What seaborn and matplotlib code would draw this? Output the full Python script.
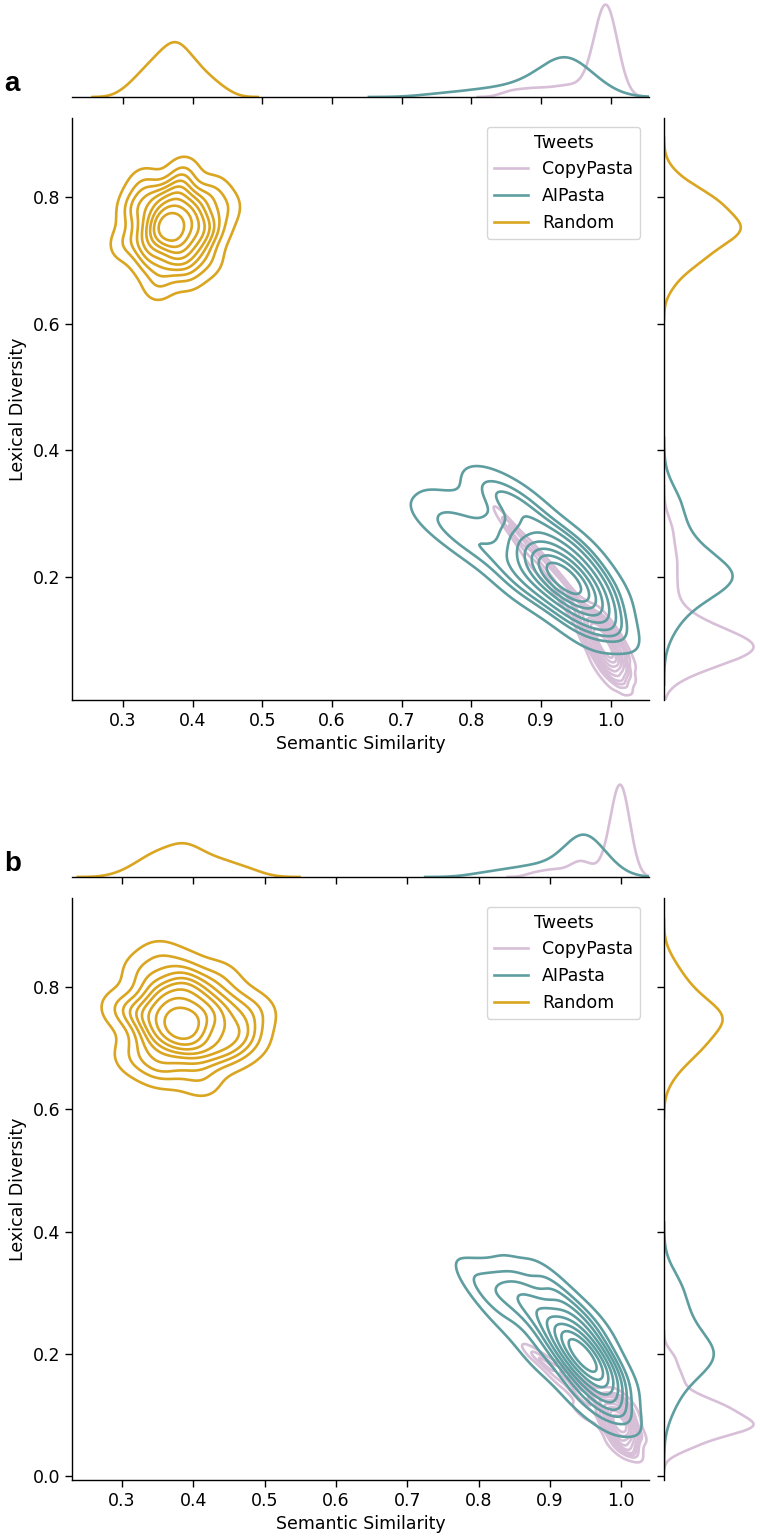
import pandas as pd
import matplotlib
matplotlib.use("Agg")
import matplotlib.pyplot as plt
from matplotlib.lines import Line2D
import seaborn as sns

# hue groups, colours and smoothing per group
groups = ["CopyPasta", "AIPasta", "Random"]
palette = {"CopyPasta": "thistle", "AIPasta": "cadetblue", "Random": "goldenrod"}
bw = {"CopyPasta": 0.75, "AIPasta": 1.15, "Random": 0.9}

# ~~~ panel a: (semantic similarity, lexical diversity) per tweet ~~~
a_random_x = [0.377, 0.355, 0.416, 0.333, 0.384, 0.366, 0.402, 0.341, 0.434, 0.315,
              0.373, 0.391, 0.359, 0.380, 0.348, 0.409, 0.326, 0.395, 0.369, 0.449,
              0.301, 0.387, 0.351, 0.405, 0.344, 0.380, 0.362, 0.423, 0.330, 0.398,
              0.371, 0.384, 0.355, 0.413, 0.319, 0.373, 0.391, 0.341, 0.431, 0.366]
a_random_y = [0.739, 0.787, 0.761, 0.712, 0.818, 0.690, 0.726, 0.765, 0.748, 0.774,
              0.752, 0.778, 0.743, 0.712, 0.800, 0.796, 0.739, 0.677, 0.770, 0.783,
              0.726, 0.840, 0.660, 0.756, 0.730, 0.792, 0.761, 0.699, 0.822, 0.774,
              0.721, 0.748, 0.752, 0.734, 0.792, 0.805, 0.704, 0.695, 0.809, 0.750]

a_ai_x = [0.930, 0.950, 0.910, 0.965, 0.895, 0.945, 0.915, 0.975, 0.935, 0.955,
          0.925, 0.905, 0.985, 0.960, 0.890, 0.940, 0.920, 0.970, 0.900, 0.945,
          0.980, 0.925, 0.935, 0.960, 0.995, 0.915, 0.950, 0.880,
          0.860, 0.840, 0.820, 0.800, 0.780, 0.850, 0.880, 0.760, 0.900, 0.870,
          0.740, 0.820, 0.880, 0.950, 0.985, 0.865, 0.925, 0.800, 0.840, 0.960,
          0.925, 0.935, 0.930, 0.920, 0.940, 0.928, 0.933, 0.945, 0.918, 0.938,
          0.950, 0.912]
a_ai_y = [0.200, 0.185, 0.220, 0.160, 0.235, 0.215, 0.190, 0.150, 0.230, 0.200,
          0.175, 0.210, 0.135, 0.180, 0.250, 0.160, 0.240, 0.190, 0.195, 0.245,
          0.170, 0.205, 0.185, 0.140, 0.120, 0.260, 0.225, 0.215,
          0.220, 0.280, 0.250, 0.300, 0.270, 0.320, 0.300, 0.310, 0.270, 0.190,
          0.290, 0.330, 0.320, 0.255, 0.200, 0.185, 0.145, 0.245, 0.340, 0.110,
          0.205, 0.195, 0.210, 0.200, 0.190, 0.188, 0.215, 0.180, 0.215, 0.205,
          0.175, 0.222]

a_copy_x = [0.994, 0.988, 1.005, 0.982, 0.996, 0.991, 1.001, 0.984, 1.010, 0.977,
            0.993, 0.998, 0.989, 0.995, 0.986, 1.003, 0.980, 0.999, 0.992, 1.014,
            0.973, 0.997, 0.987, 1.002, 0.985, 0.995, 0.990, 1.007, 0.981, 1.000,
            0.993, 0.996, 0.988, 1.004, 0.978, 0.993, 0.998, 0.984, 1.009, 0.991,
            0.970, 0.962, 0.955, 0.948, 0.940, 0.932, 0.925, 0.915, 0.905, 0.895,
            0.885, 0.875, 0.862, 0.850]
a_copy_y = [0.081, 0.110, 0.083, 0.077, 0.119, 0.059, 0.068, 0.102, 0.072, 0.112,
            0.088, 0.097, 0.087, 0.067, 0.118, 0.102, 0.092, 0.046, 0.098, 0.087,
            0.091, 0.129, 0.047, 0.083, 0.083, 0.106, 0.095, 0.050, 0.133, 0.093,
            0.073, 0.083, 0.092, 0.070, 0.120, 0.114, 0.060, 0.067, 0.104, 0.089,
            0.135, 0.125, 0.150, 0.165, 0.150, 0.180, 0.200, 0.190, 0.220, 0.235,
            0.225, 0.255, 0.270, 0.285]

# ~~~ panel b ~~~
b_random_x = [0.398, 0.350, 0.376, 0.425, 0.319, 0.447, 0.411, 0.372, 0.389, 0.363,
              0.385, 0.359, 0.394, 0.425, 0.337, 0.341, 0.398, 0.460, 0.367, 0.354,
              0.411, 0.297, 0.477, 0.381, 0.407, 0.345, 0.376, 0.438, 0.315, 0.363,
              0.416, 0.389, 0.385, 0.403, 0.345, 0.332, 0.433, 0.442, 0.328, 0.387,
              0.470, 0.455, 0.490]
b_random_y = [0.750, 0.720, 0.805, 0.690, 0.760, 0.735, 0.785, 0.700, 0.830, 0.665,
              0.745, 0.770, 0.725, 0.755, 0.710, 0.795, 0.680, 0.775, 0.740, 0.850,
              0.645, 0.765, 0.715, 0.790, 0.705, 0.755, 0.730, 0.815, 0.685, 0.780,
              0.743, 0.760, 0.720, 0.800, 0.670, 0.745, 0.770, 0.700, 0.825, 0.735,
              0.735, 0.700, 0.760]

b_ai_x = [0.945, 0.955, 0.935, 0.965, 0.925, 0.950, 0.940, 0.975, 0.930, 0.960,
          0.938, 0.920, 0.985, 0.958, 0.915, 0.948, 0.935, 0.972, 0.925, 0.952,
          0.980, 0.942, 0.948, 0.968, 0.990, 0.928, 0.962, 0.910,
          0.900, 0.890, 0.880, 0.870, 0.860, 0.850, 0.840, 0.825, 0.810, 0.795,
          0.905, 0.880, 0.900, 0.960, 0.990, 0.880, 0.935, 0.830, 0.860, 0.970,
          0.945, 0.950, 0.940, 0.955, 0.942, 0.948, 0.938, 0.958, 0.944, 0.952,
          0.935, 0.960]
b_ai_y = [0.195, 0.175, 0.215, 0.160, 0.230, 0.210, 0.180, 0.140, 0.245, 0.200,
          0.165, 0.205, 0.125, 0.185, 0.250, 0.150, 0.260, 0.180, 0.190, 0.240,
          0.160, 0.205, 0.225, 0.130, 0.110, 0.270, 0.220, 0.225,
          0.240, 0.275, 0.260, 0.295, 0.280, 0.310, 0.290, 0.315, 0.300, 0.320,
          0.300, 0.220, 0.320, 0.255, 0.180, 0.190, 0.130, 0.260, 0.330, 0.100,
          0.200, 0.190, 0.205, 0.185, 0.195, 0.210, 0.215, 0.175, 0.185, 0.200,
          0.222, 0.170]

b_copy_x = [0.996, 1.004, 1.000, 0.991, 1.010, 0.987, 0.993, 1.000, 0.997, 1.002,
            0.998, 1.003, 0.996, 0.991, 1.007, 1.006, 0.996, 0.984, 1.001, 1.004,
            0.993, 1.014, 0.981, 0.999, 0.994, 1.005, 1.000, 0.988, 1.011, 1.002,
            0.992, 0.997, 0.998, 0.995, 1.005, 1.008, 0.989, 0.988, 1.008, 0.998,
            0.975, 0.965, 0.958, 0.950, 0.945, 0.940, 0.935, 0.930, 0.920, 0.910,
            0.900, 0.890, 0.875, 0.945]
b_copy_y = [0.089, 0.069, 0.110, 0.066, 0.083, 0.089, 0.106, 0.063, 0.123, 0.047,
            0.085, 0.092, 0.077, 0.095, 0.063, 0.101, 0.058, 0.108, 0.080, 0.127,
            0.045, 0.082, 0.084, 0.104, 0.070, 0.084, 0.077, 0.123, 0.049, 0.097,
            0.088, 0.092, 0.074, 0.112, 0.047, 0.078, 0.103, 0.073, 0.112, 0.081,
            0.120, 0.130, 0.115, 0.140, 0.125, 0.150, 0.140, 0.160, 0.170, 0.160,
            0.180, 0.190, 0.200, 0.105]

X = "Semantic Similarity"
Y = "Lexical Diversity"

plt.rcParams.update({
    "font.size": 12.5,
    "axes.linewidth": 1.0,
    "xtick.major.size": 5,
    "ytick.major.size": 5,
    "xtick.major.width": 1.0,
    "ytick.major.width": 1.0,
})


def make_df(copy_x, copy_y, ai_x, ai_y, rnd_x, rnd_y):
    parts = []
    for name, xs, ys in [("CopyPasta", copy_x, copy_y), ("AIPasta", ai_x, ai_y), ("Random", rnd_x, rnd_y)]:
        parts.append(pd.DataFrame({X: xs, Y: ys, "Tweets": name}))
    return pd.concat(parts, ignore_index=True)


df_a = make_df(a_copy_x, a_copy_y, a_ai_x, a_ai_y, a_random_x, a_random_y)
df_b = make_df(b_copy_x, b_copy_y, b_ai_x, b_ai_y, b_random_x, b_random_y)

W, H = 760, 1539
fig = plt.figure(figsize=(W / 100, H / 100), dpi=100)


def box(x0, y0, x1, y1):
    return [x0 / W, 1 - y1 / H, (x1 - x0) / W, (y1 - y0) / H]


def draw_panel(df, top, letter, xlim, ylim, yticks):
    ax = fig.add_axes(box(72, top + 118, 649, top + 700))
    ax_top = fig.add_axes(box(72, top, 649, top + 97), sharex=ax)
    ax_right = fig.add_axes(box(664, top + 118, 758, top + 700), sharey=ax)

    for g in groups:
        sub = df[df["Tweets"] == g]
        c = palette[g]
        sns.kdeplot(data=sub, x=X, y=Y, color=c, bw_adjust=bw[g], ax=ax, linewidths=1.9)
        sns.kdeplot(data=sub, x=X, color=c, bw_adjust=bw[g], ax=ax_top, linewidth=1.9)
        sns.kdeplot(data=sub, y=Y, color=c, bw_adjust=bw[g], ax=ax_right, linewidth=1.9)

    ax.set_xlim(*xlim)
    ax.set_ylim(*ylim)
    ax.set_xticks([0.3, 0.4, 0.5, 0.6, 0.7, 0.8, 0.9, 1.0])
    ax.set_yticks(yticks)
    ax.set_xlabel(X)
    ax.set_ylabel(Y)
    for s in ["top", "right"]:
        ax.spines[s].set_visible(False)
    handles = [Line2D([], [], color=palette[g], lw=1.9) for g in groups]
    ax.legend(handles, groups, title="Tweets", loc="upper right")

    for s in ["top", "right", "left"]:
        ax_top.spines[s].set_visible(False)
    ax_top.tick_params(axis="x", labelbottom=False)
    ax_top.set_yticks([])
    ax_top.set_xlabel("")
    ax_top.set_ylabel("")

    for s in ["top", "right", "bottom"]:
        ax_right.spines[s].set_visible(False)
    ax_right.tick_params(axis="y", labelleft=False)
    ax_right.set_xticks([])
    ax_right.set_xlabel("")
    ax_right.set_ylabel("")

    fig.text(4 / W, 1 - (top + 84) / H, letter, fontsize=20, fontweight="bold",
             va="center", ha="left", family="Liberation Sans")


draw_panel(df_a, 0, "a", (0.227, 1.055), (0.006, 0.925), [0.2, 0.4, 0.6, 0.8])
draw_panel(df_b, 780, "b", (0.23, 1.039), (-0.006, 0.945), [0.0, 0.2, 0.4, 0.6, 0.8])

fig.savefig("out.png", dpi=100)
